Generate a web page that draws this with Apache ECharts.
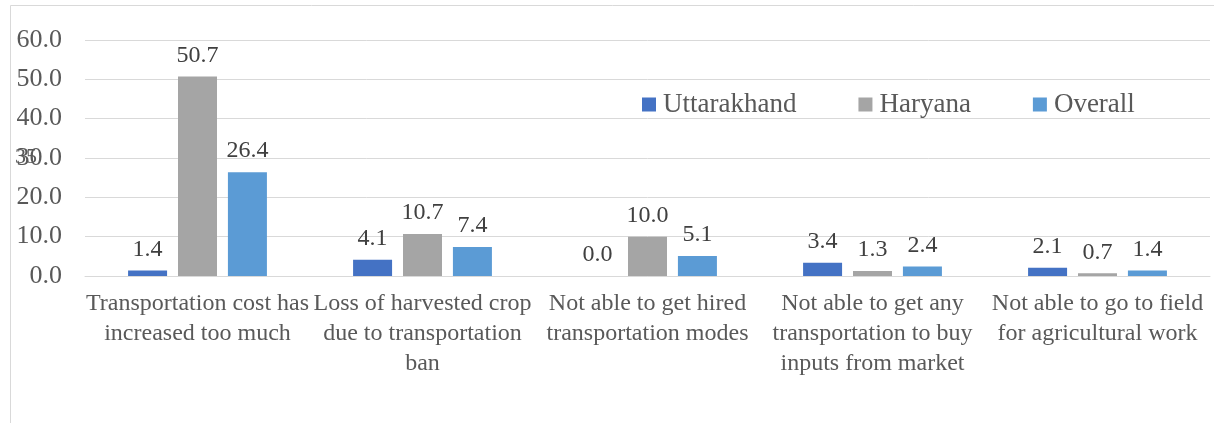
<!DOCTYPE html>
<html><head><meta charset="utf-8">
<script src="https://cdn.jsdelivr.net/npm/echarts@6/dist/echarts.min.js"></script>
<style>html,body{margin:0;padding:0;background:#fff}#c{width:1214px;height:423px}</style>
</head><body><div id="c"></div>
<script>
const categories = [
  "Transportation cost has\nincreased too much",
  "Loss of harvested crop\ndue to transportation\nban",
  "Not able to get hired\ntransportation modes",
  "Not able to get any\ntransportation to buy\ninputs from market",
  "Not able to go to field\nfor agricultural work"
];
const seriesNames = ["Uttarakhand", "Haryana", "Overall"];
const uttarakhand = [1.4, 4.1, 0.0, 3.4, 2.1];
const haryana = [50.7, 10.7, 10.0, 1.3, 0.7];
const overall = [26.4, 7.4, 5.1, 2.4, 1.4];
const colors = ["#4472C4", "#A5A5A5", "#5B9BD5"];
const font = "Liberation Serif";

const chart = echarts.init(document.getElementById('c'));
const mk = (name, data, color) => ({
  name, type: 'bar', data, barWidth: 39, barGap: '28%',
  itemStyle: { color },
  label: { show: true, position: 'top', distance: 9, color: '#404040', fontFamily: font, fontSize: 24,
    formatter: p => p.value.toFixed(1) }
});
chart.setOption({
  animation: false,
  textStyle: { fontFamily: font },
  graphic: [
    { type: 'rect', shape: { x: 10.5, y: 5.5, width: 1220, height: 430 }, style: { fill: 'none', stroke: '#D9D9D9', lineWidth: 1 }, silent: true },
    { type: 'text', left: 15, top: 146, style: { text: '35', fontFamily: font, fontSize: 22, fill: '#595959' }, silent: true }
  ],
  legend: {
    left: 637, top: 86, itemWidth: 14, itemHeight: 14, itemGap: 62, icon: 'rect',
    textStyle: { fontFamily: font, fontSize: 27, color: '#595959', padding: [0, 0, 0, 2] },
    data: seriesNames
  },
  grid: { left: 85, right: 4, top: 40, bottom: 147 },
  xAxis: {
    type: 'category', data: categories,
    axisLine: { lineStyle: { color: '#D9D9D9' } }, axisTick: { show: false },
    axisLabel: { interval: 0, color: '#595959', fontFamily: font, fontSize: 24, lineHeight: 30, margin: 13 }
  },
  yAxis: {
    type: 'value', min: 0, max: 60, interval: 10,
    axisLine: { show: false }, axisTick: { show: false },
    splitLine: { lineStyle: { color: '#D9D9D9' } },
    axisLabel: { color: '#595959', fontFamily: font, fontSize: 26, margin: 23, formatter: v => v.toFixed(1) }
  },
  series: [mk(seriesNames[0], uttarakhand, colors[0]), mk(seriesNames[1], haryana, colors[1]), mk(seriesNames[2], overall, colors[2])]
});
</script></body></html>
